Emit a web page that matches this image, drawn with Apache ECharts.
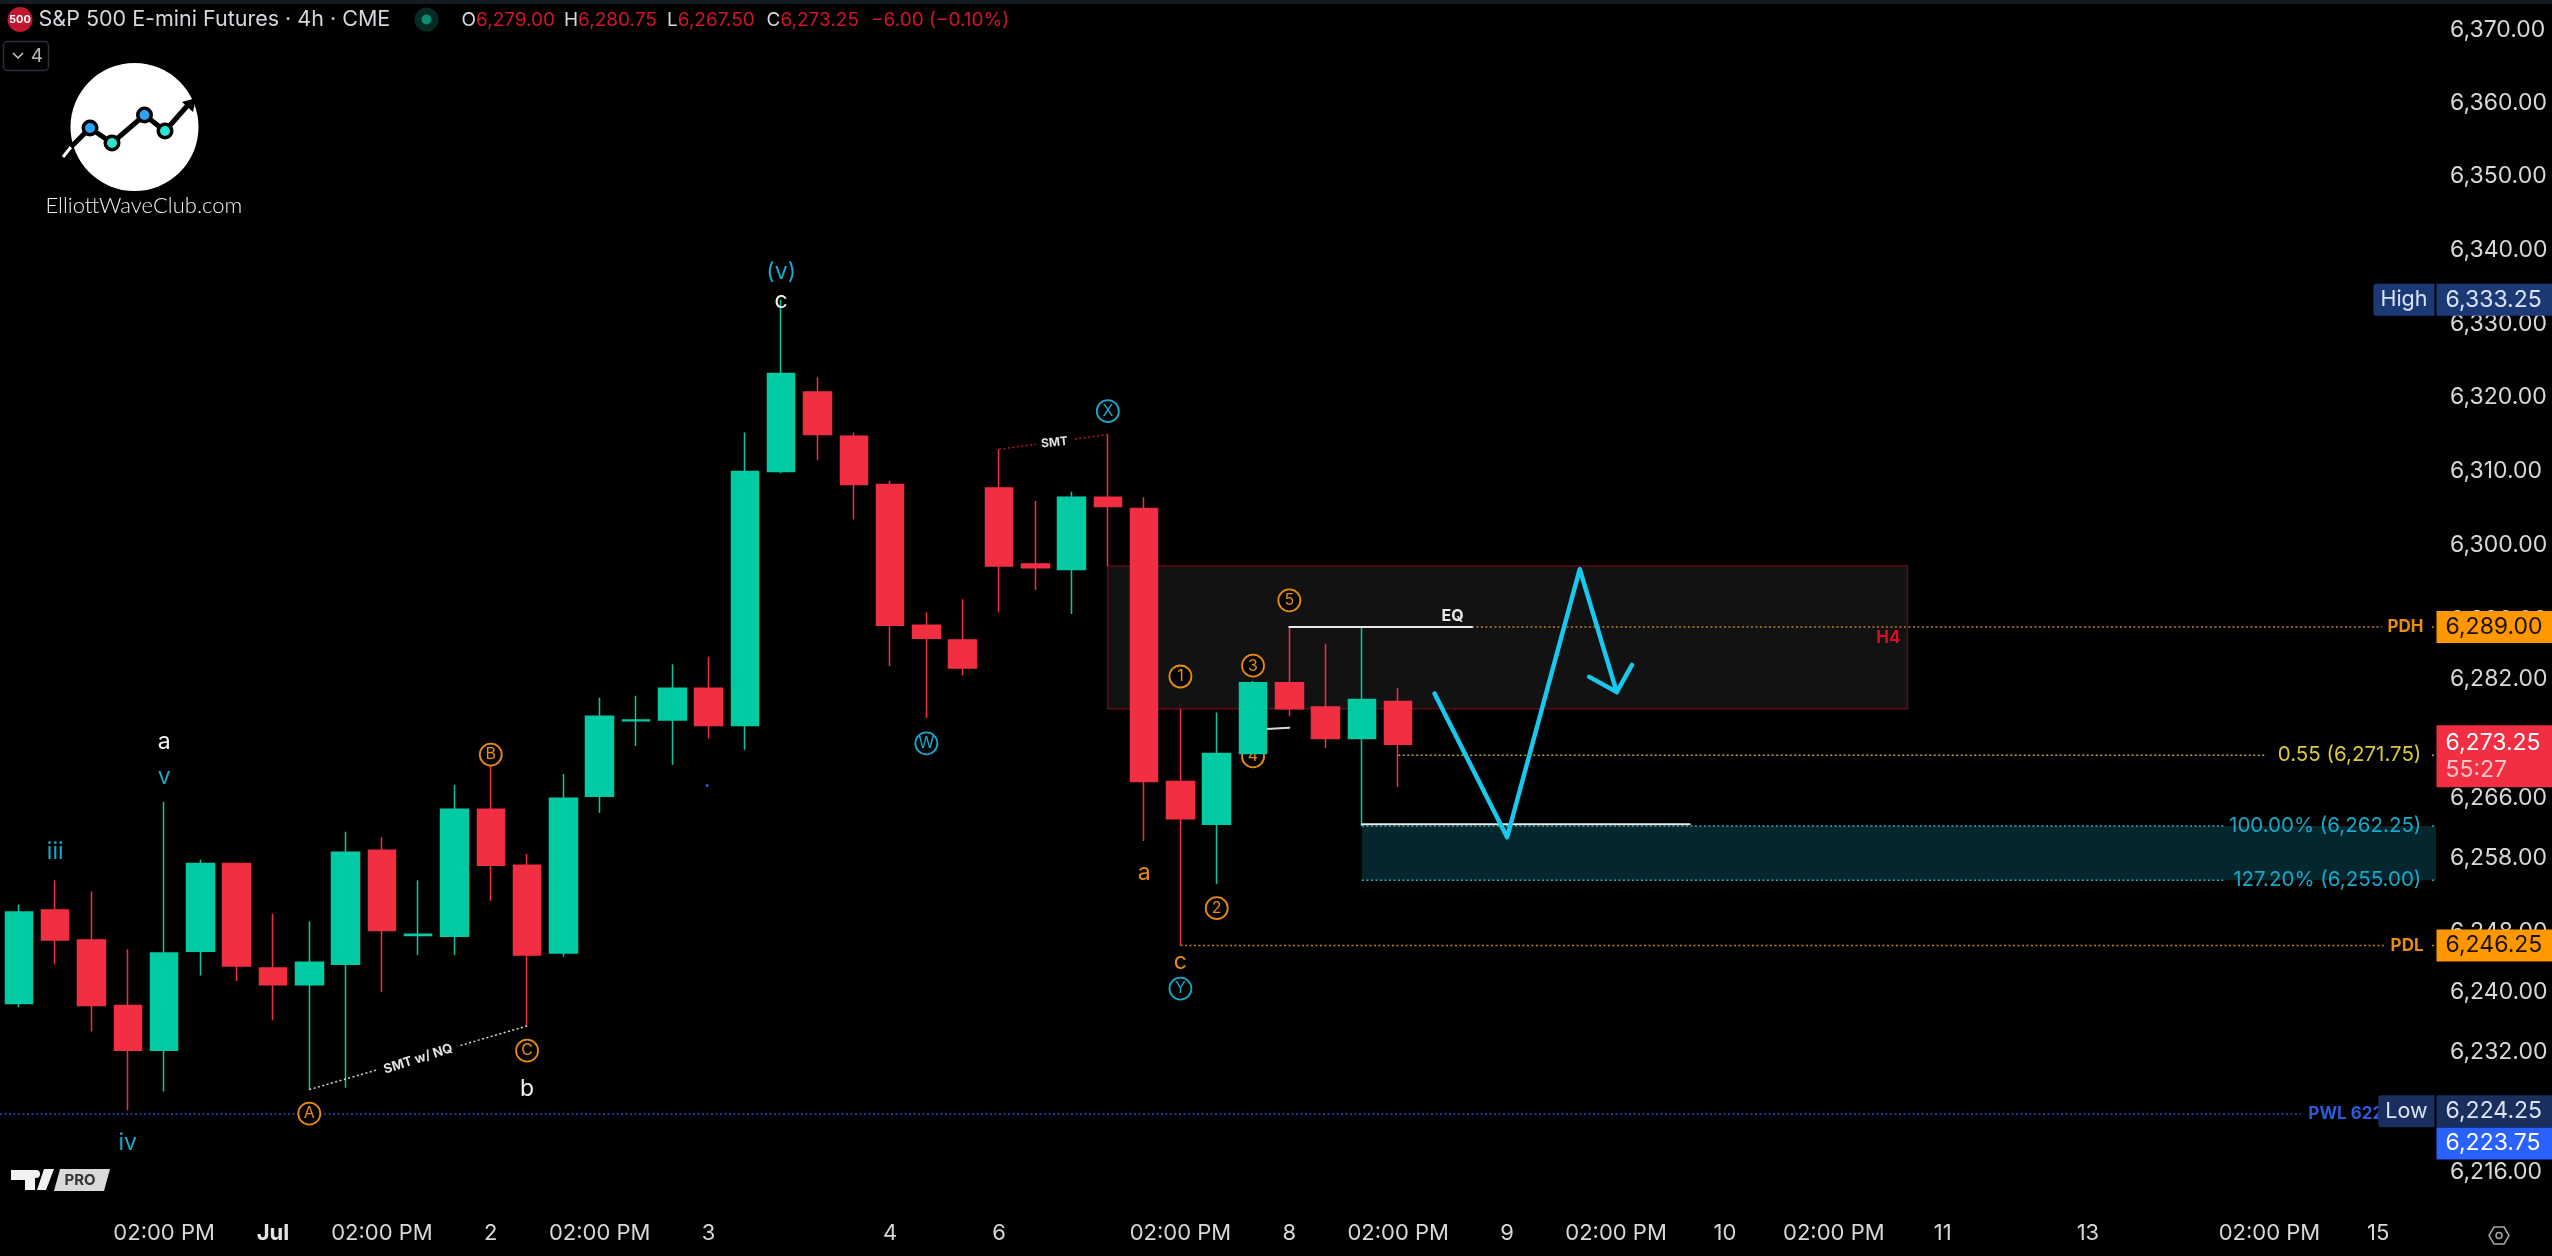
<!DOCTYPE html>
<html>
<head>
<meta charset="utf-8">
<title>S&amp;P 500 E-mini Futures 4h</title>
<style>html,body{margin:0;padding:0;background:#000;}#chart{width:2552px;height:1256px;}</style>
<script src="https://cdn.jsdelivr.net/npm/echarts@6/dist/echarts.min.js"></script>
</head>
<body>
<div id="chart"></div>
<script>
// Four-hour bars: open, close, low, high, one row per bar
const bars = [
  [6238.5, 6250.75, 6238, 6251.75],
  [6251, 6247, 6243.75, 6255],
  [6247, 6238.25, 6234.75, 6253.5],
  [6238.25, 6232.25, 6224.25, 6245.75],
  [6232.25, 6245.25, 6226.75, 6265.5],
  [6245.5, 6257.25, 6242.25, 6257.75],
  [6257.25, 6243.5, 6241.5, 6257.25],
  [6243.25, 6241, 6236.25, 6250.5],
  [6241, 6244, 6227, 6249.5],
  [6243.75, 6258.75, 6227.25, 6261.5],
  [6259, 6248.25, 6240, 6260.75],
  [6247.6, 6247.75, 6245, 6255],
  [6247.5, 6264.5, 6245, 6267.75],
  [6264.5, 6257, 6252.25, 6270.5],
  [6257, 6245, 6235.5, 6258.5],
  [6245.25, 6266, 6244.75, 6269.25],
  [6266.25, 6277, 6264, 6279.5],
  [6276.4, 6276.5, 6273, 6279.75],
  [6276.5, 6280.75, 6270.5, 6284],
  [6280.75, 6275.75, 6274, 6285],
  [6275.75, 6310, 6272.5, 6315.25],
  [6310, 6323.25, 6309.75, 6333.25],
  [6320.75, 6315, 6311.5, 6322.75],
  [6314.75, 6308.25, 6303.5, 6315.25],
  [6308.25, 6289.25, 6283.75, 6308.75],
  [6289.25, 6287.5, 6276.75, 6291],
  [6287.25, 6283.5, 6282.5, 6292.75],
  [6307.75, 6297.25, 6291, 6313],
  [6297.5, 6297, 6294, 6306],
  [6296.75, 6306.5, 6290.75, 6307.25],
  [6306.5, 6305.25, 6297.25, 6315],
  [6305, 6268.25, 6260.25, 6306.5],
  [6268.25, 6263.25, 6246.25, 6278],
  [6262.5, 6272, 6254.5, 6277.5],
  [6272, 6281.5, 6272, 6281.75],
  [6281.5, 6278, 6277, 6289],
  [6278.25, 6274, 6272.75, 6286.75],
  [6274, 6279.25, 6262.25, 6289],
  [6279, 6273.25, 6267.5, 6280.75]
];

// Time axis: bar index of each tick and its text
const timeTickIndex = [4, 7, 10, 13, 16, 19, 24, 27, 32, 35, 38, 41, 44, 47, 50, 53, 57, 62, 65];
const timeTickText = ['02:00 PM', 'Jul', '02:00 PM', '2', '02:00 PM', '3', '4', '6', '02:00 PM', '8',
  '02:00 PM', '9', '02:00 PM', '10', '02:00 PM', '11', '13', '02:00 PM', '15'];

// Price axis ticks
const priceTicks = [6370, 6360, 6350, 6340, 6330, 6320, 6310, 6300, 6290, 6282, 6274, 6266, 6258, 6248, 6240, 6232, 6224, 6216];

// Axis window, in bar units and price units (the price scale is logarithmic)
const barMin = -0.5207, barMax = 66.59;
const priceMin = 6212.3, priceMax = 6372.4;

// Key levels
const pdh = 6289, pdl = 6246.25, pwl = 6223.75, fib55 = 6271.75, fib100 = 6262.25, fib127 = 6255;
const dayHigh = 6333.25, dayLow = 6224.25, lastPrice = 6273.25;

// Supply box (bar range, price range) and target box
const supplyBox = [30, 52.03, 6297.25, 6278];
const targetBox = [37, barMax, fib100, fib127];

// Forecast path and its arrow head
const forecastPath = [[39, 6280.05], [41, 6260.75], [43, 6296.8], [44.02, 6280.25]];
const forecastHead = [[43.26, 6282.3], [44.02, 6280.25], [44.44, 6283.9]];

// Wave labels as [text, bar, price]
const whiteWaves = [['a', 4, 6273.5], ['b', 14, 6227.1], ['c', 21, 6333]];
const tealWaves = [['iii', 1, 6258.8], ['v', 4, 6268.85], ['iv', 3, 6219.9], ['(v)', 21, 6337]];
const orangeWaves = [['a', 31, 6256], ['c', 32, 6244]];
const orangeCircled = [['A', 8, 6223.8], ['B', 13, 6271.85], ['C', 14, 6232.2], ['1', 32, 6282.35], ['2', 33, 6251.25], ['3', 34, 6283.8], ['5', 35, 6292.6]];
const hiddenCircled = [['4', 34, 6271.6]];
const tealCircled = [['W', 25, 6273.35], ['X', 30, 6318.15], ['Y', 32, 6240.5]];

// Drawn trend notes
const smtNq = [[8, 6227], [14, 6235.5]];
const smtEs = [[27, 6313], [30, 6315]];
const wave4Stub = [[34, 6275.2], [35, 6275.45]];

const FONT = 'Inter, "Liberation Sans", sans-serif';
const fmt = v => v.toFixed(2).replace(/^(\d)(\d{3})/, '$1,$2');
const GREEN = '#02cba3', RED = '#f22f42', ORANGE = '#e88c12', TEAL = '#17a9cb';
const HIDDEN_POINT = { color: 'transparent', opacity: 1 };

// One straight run between chart coordinates
function seg(points, color, width, type, z) {
  const dotted = Array.isArray(type);
  return {
    type: 'line', data: points, showSymbol: false, silent: true, clip: false, z: z || 6,
    lineStyle: { color, width: width || 1.5, type: type || 'solid', cap: dotted ? 'butt' : 'round', join: 'round' }
  };
}
const DOT = [2, 2.5];

// Text placed at a chart coordinate
function notes(rows, color, size, weight, extra) {
  return {
    type: 'scatter', symbolSize: 1, clip: false, silent: true, z: 8,
    itemStyle: HIDDEN_POINT,
    data: rows.map(r => ({ name: r[0], value: [r[1], r[2]] })),
    label: Object.assign({
      show: true, position: 'inside', formatter: '{b}', color, fontSize: size,
      fontWeight: weight || 'normal', fontFamily: FONT
    }, extra || {})
  };
}

// Ringed wave labels
function rings(rows, color, z) {
  return {
    type: 'scatter', symbol: 'circle', symbolSize: 22, clip: false, silent: true, z: z || 8,
    itemStyle: { color: '#000', borderColor: color, borderWidth: 1.8, opacity: 1 },
    data: rows.map(r => ({ name: r[0], value: [r[1], r[2]] })),
    label: { show: true, position: 'inside', formatter: '{b}', color, fontSize: 16, fontFamily: FONT }
  };
}

// Price tag in the axis gutter
function tag(value, text, bg, fg, dy, rich) {
  return {
    value: [barMax, value],
    label: {
      show: true, position: 'right', distance: 0, formatter: text, backgroundColor: bg, color: fg,
      width: 107, padding: [4, 0, 4, 9], lineHeight: 24, fontSize: 23, fontFamily: FONT,
      align: 'left', offset: [0, dy || 0], rich: rich || {}
    }
  };
}

const tagSeries = {
  type: 'scatter', symbolSize: 1, clip: false, silent: true, z: 20, itemStyle: HIDDEN_POINT,
  data: [
    tag(dayHigh, fmt(dayHigh), '#1b3a75', '#dbe3f3', 0),
    tag(pdh, fmt(pdh), '#ff9800', '#1a1204', 0),
    tag(pdl, fmt(pdl), '#ff9800', '#1a1204', 0),
    tag(lastPrice, '{v|' + fmt(lastPrice) + '}\n{t|55:27}', RED, '#fff', 12,
      { v: { fontSize: 23, lineHeight: 28, color: '#fff', fontFamily: FONT, width: 107 }, t: { fontSize: 23, lineHeight: 26, color: '#fbc4ca', fontFamily: FONT, width: 107 } }),
    tag(dayLow, fmt(dayLow), '#1a2f5e', '#dbe3f3', 1),
    tag(pwl, fmt(pwl), '#2962ff', '#fff', 29.5)
  ]
};

// "High" and "Low" captions beside their tags
function caption(value, text, bg, dy) {
  return {
    value: [barMax, value],
    label: {
      show: true, position: 'left', distance: 1, formatter: text, backgroundColor: bg, color: '#dbe3f3',
      padding: [4, 7, 4, 7], lineHeight: 24, fontSize: 21.5, fontFamily: FONT, offset: [0, dy || 0], borderRadius: [3, 0, 0, 3]
    }
  };
}
const captionSeries = {
  type: 'scatter', symbolSize: 1, clip: false, silent: true, z: 19, itemStyle: HIDDEN_POINT,
  data: [caption(dayHigh, 'High', '#1b3a75', 0), caption(dayLow, 'Low', '#1a2f5e', 1)]
};

// Level captions, right aligned against a bar position
function levelLabel(x, v, text, color, size, weight, pos) {
  return {
    value: [x, v],
    label: { show: true, position: pos || 'left', distance: 0, formatter: text, color, fontSize: size, fontWeight: weight || 'normal', fontFamily: FONT }
  };
}
const levelLabels = {
  type: 'scatter', symbolSize: 1, clip: false, silent: true, z: 9, itemStyle: HIDDEN_POINT,
  data: [
    levelLabel(66.26, pdh, 'PDH', ORANGE, 17, 'bold'),
    levelLabel(66.26, pdl, 'PDL', ORANGE, 17, 'bold'),
    levelLabel(66.2, fib55, '0.55 (' + fmt(fib55) + ')', '#d8c93a', 20.5),
    levelLabel(66.2, fib100, '100.00% (' + fmt(fib100) + ')', TEAL, 20.5),
    levelLabel(66.2, fib127, '127.20% (' + fmt(fib127) + ')', TEAL, 20.5),
    levelLabel(63.06, pwl, 'PWL 6223.75', '#2a5bdc', 17, 'bold', 'right'),
    levelLabel(51.85, 6287.55, 'H4', '#d90d25', 17, 'bold')
  ]
};

const zoneSeries = {
  type: 'line', data: [], silent: true, z: 1,
  markArea: {
    silent: true, z: 1,
    data: [
      [{ coord: [supplyBox[0], supplyBox[2]], itemStyle: { color: '#121212', borderColor: '#5e0c17', borderWidth: 1.5 } }, { coord: [supplyBox[1], supplyBox[3]] }],
      [{ coord: [targetBox[0], targetBox[2]], itemStyle: { color: '#04272d', borderWidth: 0 } }, { coord: [targetBox[1], targetBox[3]] }]
    ]
  }
};

const series = [
  zoneSeries,
  seg(wave4Stub, '#d8d8d8', 2, 'solid', 2),
  rings(hiddenCircled, ORANGE, 2),
  {
    type: 'candlestick', z: 4, barWidth: 28, silent: true, clip: false,
    data: bars.map((b, i) => [i, b[0], b[1], b[2], b[3]]),
    itemStyle: { color: GREEN, color0: RED, borderColor: GREEN, borderColor0: RED, borderWidth: 1.5 }
  },
  // Previous day, previous week and fib levels
  seg([[40.03, pdh], [65.1, pdh]], '#c47f1c', 1.5, DOT),
  seg([[66.48, pdh], [barMax, pdh]], '#c47f1c', 1.5, DOT),
  seg([[32, pdl], [65.15, pdl]], '#c47f1c', 1.5, DOT),
  seg([[66.48, pdl], [barMax, pdl]], '#c47f1c', 1.5, DOT),
  seg([[barMin, pwl], [62.87, pwl]], '#2a44cc', 1.5, DOT),
  seg([[38, fib55], [61.9, fib55]], '#b5a626', 1.5, DOT),
  seg([[66.48, fib55], [barMax, fib55]], '#b5a626', 1.5, DOT),
  seg([[37, fib100], [60.8, fib100]], '#1fb0be', 1.5, DOT),
  seg([[37, fib127], [60.8, fib127]], '#1fb0be', 1.5, DOT),
  seg([[66.48, fib100], [barMax, fib100]], '#1fb0be', 1.5, DOT),
  seg([[66.48, fib127], [barMax, fib127]], '#1fb0be', 1.5, DOT),
  // Solid reference lines
  seg([[35, pdh], [40.03, pdh]], '#e8e8e8', 2),
  seg([[37, 6262.5], [46.03, 6262.5]], '#e8e8e8', 2),
  // SMT notes
  seg(smtNq, '#d8d8d8', 1.5, DOT),
  seg(smtEs, '#b8182e', 1.5, DOT),
  // Forecast
  seg(forecastPath, '#17c8ef', 4.5, 'solid', 10),
  seg(forecastHead, '#17c8ef', 4.5, 'solid', 10),
  notes(whiteWaves, '#f2f2f2', 23),
  notes(tealWaves, TEAL, 23),
  notes(orangeWaves, ORANGE, 23),
  rings(orangeCircled, ORANGE),
  rings(tealCircled, TEAL),
  notes([['EQ', 39.5, 6290.5]], '#e8e8e8', 16, 'bold'),
  notes([['SMT w/ NQ', 11, 6231.1]], '#e0e0e0', 13, 'bold', { rotate: 18, backgroundColor: '#000', padding: [1, 6] }),
  notes([['SMT', 28.53, 6313.9]], '#e0e0e0', 12, 'bold', { rotate: 6, backgroundColor: '#000', padding: [1, 5] }),
  { type: 'scatter', symbolSize: 3, silent: true, z: 8, itemStyle: { color: '#2a5bdc', opacity: 1 }, data: [[18.96, 6267.7]] },
  levelLabels,
  captionSeries,
  tagSeries
];

const tickLabelOf = v => {
  const k = timeTickIndex.indexOf(v);
  if (k < 0) return '';
  return timeTickText[k] === 'Jul' ? '{b|Jul}' : timeTickText[k];
};

// Header text pieces, in reading order
const ohlc = [['O', '6,279.00', 461.5], ['H', '6,280.75', 564], ['L', '6,267.50', 667], ['C', '6,273.25', 766.5]];
const changeText = '\u22126.00 (\u22120.10%)';

const headerRich = {
  k: { fill: '#d6d8dd', font: '19px ' + FONT },
  p: { fill: '#d2142b', font: '19px ' + FONT }
};
const headerGraphics = [
  { type: 'rect', shape: { x: 0, y: 0, width: 2552, height: 4 }, style: { fill: '#131c22' }, z: 30 },
  { type: 'circle', shape: { cx: 20, cy: 19.5, r: 12.5 }, style: { fill: '#c2172e' }, z: 30 },
  { type: 'text', x: 20, y: 19.5, style: { text: '500', fill: '#fff', font: 'bold 11px ' + FONT, align: 'center', verticalAlign: 'middle' }, z: 31 },
  { type: 'text', x: 38.5, y: 20, style: { text: 'S&P 500 E-mini Futures \u00b7 4h \u00b7 CME', fill: '#d6d8dd', font: '21.5px ' + FONT, align: 'left', verticalAlign: 'middle' }, z: 30 },
  { type: 'circle', shape: { cx: 426.5, cy: 19.5, r: 12 }, style: { fill: '#062a25' }, z: 30 },
  { type: 'circle', shape: { cx: 426.5, cy: 19.5, r: 5 }, style: { fill: '#0d8c74' }, z: 31 }
];
ohlc.forEach(r => {
  headerGraphics.push({ type: 'text', x: r[2], y: 20, style: { text: '{k|' + r[0] + '}{p|' + r[1] + '}', rich: headerRich, align: 'left', verticalAlign: 'middle' }, z: 30 });
});
headerGraphics.push({ type: 'text', x: 871, y: 20, style: { text: changeText, fill: '#d2142b', font: '19px ' + FONT, align: 'left', verticalAlign: 'middle' }, z: 30 });

// Collapsed indicators button
const buttonGraphics = [
  { type: 'rect', shape: { x: 3.5, y: 41.5, width: 45, height: 29, r: 4 }, style: { fill: '#000', stroke: '#2a2e39', lineWidth: 1.5 }, z: 30 },
  { type: 'polyline', shape: { points: [[13, 53], [18, 58], [23, 53]] }, style: { stroke: '#c8cad0', lineWidth: 1.5, fill: null }, z: 31 },
  { type: 'text', x: 37, y: 56, style: { text: '4', fill: '#b5b8bf', font: '19px ' + FONT, align: 'center', verticalAlign: 'middle' }, z: 31 }
];

// Club badge
const nodes = [[90, 128, '#2aa3f5'], [112, 143, '#2ce3d0'], [144.5, 115, '#2aa3f5'], [165, 131, '#2ce3d0']];
const badgeGraphics = [
  { type: 'circle', shape: { cx: 134.5, cy: 127, r: 64 }, style: { fill: '#fff' }, z: 30 },
  { type: 'polyline', shape: { points: [[63, 157], [71, 147]] }, style: { stroke: '#fff', lineWidth: 3, fill: null }, z: 31 },
  { type: 'polyline', shape: { points: [[71, 147], [90, 128], [112, 143], [144.5, 115], [165, 131], [188, 105]] }, style: { stroke: '#000', lineWidth: 5, fill: null }, z: 31 },
  { type: 'polygon', shape: { points: [[196, 98], [193, 112], [182, 102]] }, style: { fill: '#000' }, z: 32 }
];
nodes.forEach(n => {
  badgeGraphics.push({ type: 'circle', shape: { cx: n[0], cy: n[1], r: 8.5 }, style: { fill: '#000' }, z: 32 });
  badgeGraphics.push({ type: 'circle', shape: { cx: n[0], cy: n[1], r: 5 }, style: { fill: n[2] }, z: 33 });
});
badgeGraphics.push({ type: 'text', x: 143.8, y: 205.5, style: { text: 'ElliottWaveClub.com', fill: '#f0f0f0', font: '300 22px Lato, ' + FONT, align: 'center', verticalAlign: 'middle' }, z: 30 });

// Vendor mark and settings gear
const footerGraphics = [
  { type: 'polygon', shape: { points: [[11, 1170], [35, 1170], [35, 1190], [25, 1190], [25, 1180], [11, 1180]] }, style: { fill: '#f2f2f2' }, z: 30 },
  { type: 'circle', shape: { cx: 36, cy: 1174, r: 4 }, style: { fill: '#f2f2f2' }, z: 30 },
  { type: 'polygon', shape: { points: [[44, 1169], [54, 1169], [46, 1190], [37, 1190]] }, style: { fill: '#f2f2f2' }, z: 30 },
  { type: 'polygon', shape: { points: [[60, 1169], [110, 1169], [104, 1191], [54, 1191]] }, style: { fill: '#d9d9d9' }, z: 30 },
  { type: 'text', x: 80, y: 1180, style: { text: 'PRO', fill: '#333', font: 'bold 15px ' + FONT, align: 'center', verticalAlign: 'middle' }, z: 31 },
  { type: 'polygon', shape: { points: [[2489, 1235.5], [2494, 1227], [2504, 1227], [2509, 1235.5], [2504, 1244], [2494, 1244]] }, style: { fill: null, stroke: '#a8a8a8', lineWidth: 1.5 }, z: 30 },
  { type: 'circle', shape: { cx: 2499, cy: 1235.5, r: 3 }, style: { fill: null, stroke: '#a8a8a8', lineWidth: 1.5 }, z: 30 }
];

const chart = echarts.init(document.getElementById('chart'), null, { renderer: 'canvas' });
chart.setOption({
  animation: false,
  backgroundColor: '#000',
  grid: { left: 0, right: 116, top: 12, bottom: 56, containLabel: false },
  xAxis: {
    type: 'value', min: barMin, max: barMax,
    splitLine: { show: false }, axisLine: { show: false },
    axisTick: { show: false },
    axisLabel: {
      customValues: timeTickIndex, formatter: tickLabelOf, color: '#d8d8d8', fontSize: 22, fontFamily: FONT, margin: 22,
      rich: { b: { fontWeight: 'bold', fontSize: 22, color: '#e4e4e4', fontFamily: FONT } }
    }
  },
  yAxis: {
    type: 'log', position: 'right', min: priceMin, max: priceMax,
    splitLine: { show: false }, axisLine: { show: false },
    axisTick: { show: false },
    axisLabel: { customValues: priceTicks, formatter: fmt, color: '#d8d8d8', fontSize: 23, fontFamily: FONT, margin: 14 }
  },
  graphic: { elements: headerGraphics.concat(buttonGraphics, badgeGraphics, footerGraphics) },
  series
});
</script>
</body>
</html>
